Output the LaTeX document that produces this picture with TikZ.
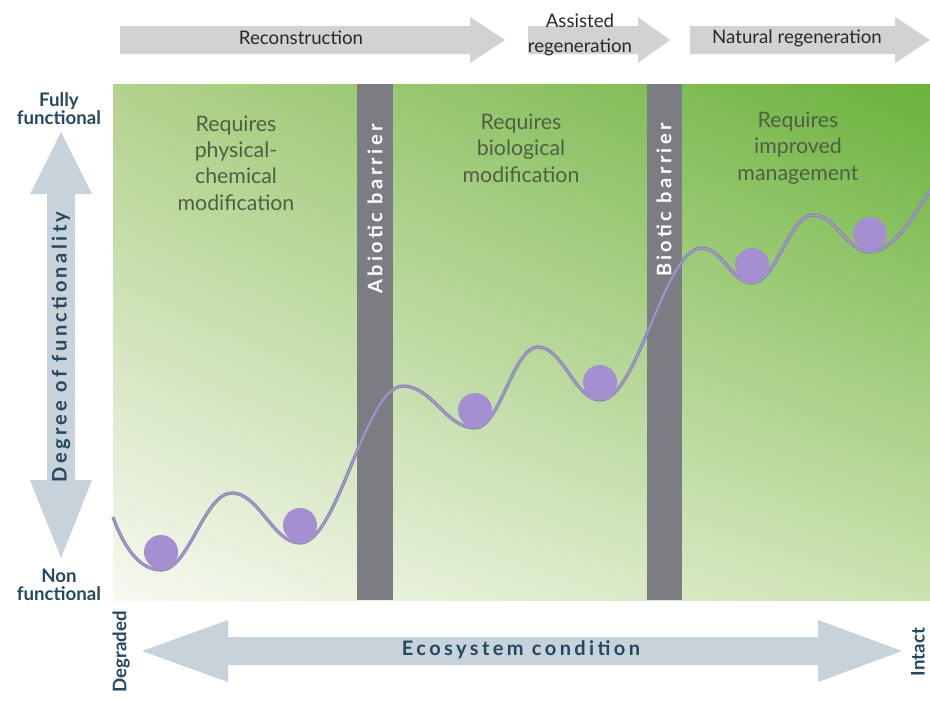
\documentclass[tikz,border=0pt]{standalone}
\usepackage{fontspec}
\usetikzlibrary{shadings}
\setmainfont{Lato}
\newfontfamily\spacedfont{Lato}[LetterSpace=17]

\definecolor{stepgray}{RGB}{210,210,210}
\definecolor{steptext}{RGB}{40,40,40}
\definecolor{axisblue}{RGB}{200,210,218}
\definecolor{axistext}{RGB}{35,72,95}
\definecolor{zonetext}{RGB}{78,96,68}
\definecolor{bargray}{RGB}{123,125,130}
\definecolor{ballviolet}{RGB}{165,143,208}
\definecolor{lineviolet}{RGB}{138,128,180}
\definecolor{linelight}{RGB}{178,168,212}
\definecolor{greenUL}{RGB}{178,210,140}
\definecolor{greenUR}{RGB}{106,178,60}
\definecolor{greenLL}{RGB}{247,249,242}
\definecolor{greenLR}{RGB}{204,226,176}

\begin{document}
\begin{tikzpicture}[x=0.75pt, y=-0.75pt,
    steplabel/.style={font=\fontsize{14}{18.5}\selectfont, text=steptext, align=center},
    zonelabel/.style={font=\fontsize{16}{19.8}\selectfont, text=zonetext, align=center},
    axislabel/.style={font=\fontsize{14}{13.5}\selectfont\bfseries, text=axistext, align=center},
    widelabel/.style={font=\fontsize{15}{16}\spacedfont\bfseries},
    barlabel/.style={widelabel, text=white, rotate=90},
    ball/.style={fill=ballviolet},
    valley/.style={draw=lineviolet, double=linelight, line width=0.9pt, double distance=0.6pt}]
    \useasboundingbox (0,0) rectangle (930,700);

    \fill[stepgray] (120,26) -- (470,26) -- (470,17) -- (505,40) -- (470,63) -- (470,54) -- (120,54) -- cycle;
    \fill[stepgray] (528,26) -- (638,26) -- (638,17) -- (670,40) -- (638,63) -- (638,54) -- (528,54) -- cycle;
    \fill[stepgray] (690,26) -- (895,26) -- (895,17) -- (930,40) -- (895,63) -- (895,54) -- (690,54) -- cycle;
    \node[steplabel] (recon) at (301,38) {Reconstruction};
    \node[steplabel] (assist) at (580,35) {Assisted\\regeneration};
    \node[steplabel] (natural) at (797,38) {Natural regeneration};

    \shade[upper left=greenUL, upper right=greenUR, lower left=greenLL, lower right=greenLR] (113,84) rectangle (930,600);

    \fill[bargray] (357,84) rectangle (393,600);
    \fill[bargray] (647,84) rectangle (682,600);

    \node[zonelabel] (zone1) at (236,163) {Requires\\physical-\\chemical\\modification};
    \node[zonelabel] (zone2) at (521,148) {Requires\\biological\\modification};
    \node[zonelabel] (zone3) at (798,148) {Requires\\improved\\management};

    \draw[valley] (113,517) .. controls (124,548) and (140,570) .. (161,570)
        .. controls (189,570) and (204,493) .. (232,493)
        .. controls (259,493) and (273,543) .. (300,543)
        .. controls (338,543) and (365,386) .. (403,386)
        .. controls (432,386) and (446,428) .. (475,428)
        .. controls (500,428) and (513,347) .. (538,347)
        .. controls (563,347) and (575,400) .. (600,400)
        .. controls (638,400) and (664,248) .. (702,248)
        .. controls (722,248) and (732,283) .. (752,283)
        .. controls (776,283) and (789,215) .. (813,215)
        .. controls (836,215) and (847,252) .. (870,252)
        .. controls (892,252) and (912,220) .. (930,190);

    \fill[ball] (161,552) circle (17);
    \fill[ball] (300,525) circle (17);
    \fill[ball] (475,410) circle (17);
    \fill[ball] (600,382) circle (17);
    \fill[ball] (752,265) circle (17);
    \fill[ball] (870,234) circle (17);

    \node[barlabel] (abiotic) at (375,209) {Abiotic barrier};
    \node[barlabel] (biotic) at (664,200) {Biotic barrier};

    \fill[axisblue] (61,132) -- (92,194) -- (75,194) -- (75,480) -- (92,480) -- (61,558)
        -- (30,480) -- (47,480) -- (47,194) -- (30,194) -- cycle;
    \fill[axisblue] (142,651) -- (228,620) -- (228,637) -- (818,637) -- (818,620) -- (902,651)
        -- (818,682) -- (818,665) -- (228,665) -- (228,682) -- cycle;

    \node[axislabel] (full) at (59,109) {Fully\\functional};
    \node[axislabel] (none) at (59,585) {Non\\functional};
    \node[axislabel, widelabel, rotate=90] (degree) at (61,347) {Degree of functionality};
    \node[axislabel, widelabel] (condition) at (521,650) {Ecosystem condition};
    \node[axislabel, rotate=90] (degraded) at (121,652) {Degraded};
    \node[axislabel, rotate=90] (intact) at (918,652) {Intact};
\end{tikzpicture}
\end{document}
